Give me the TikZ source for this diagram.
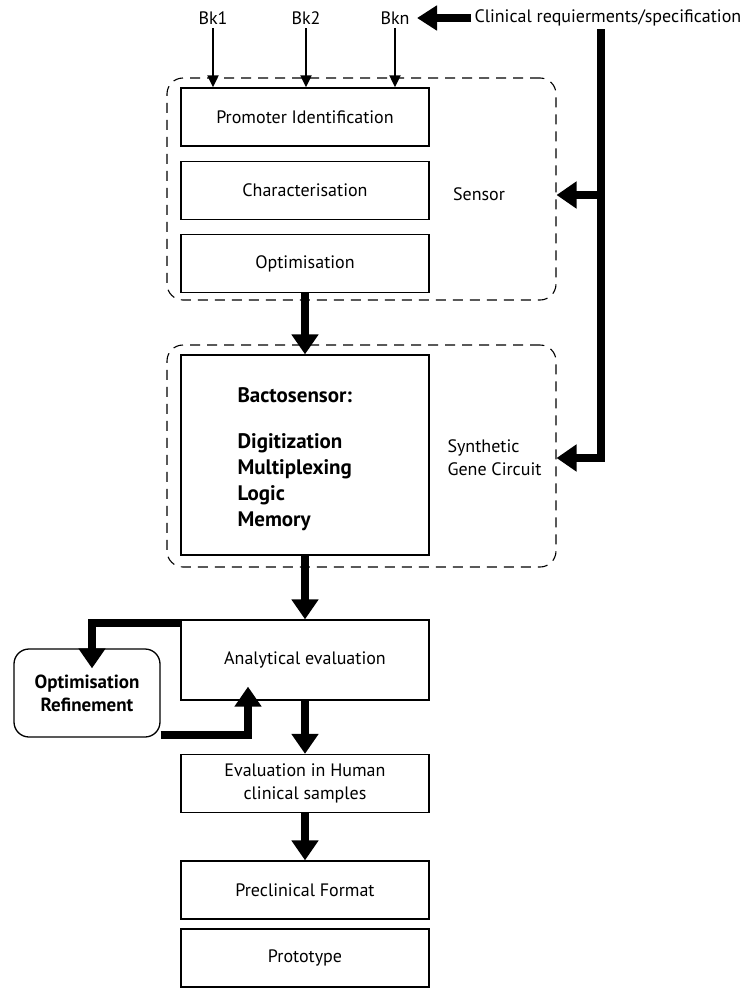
\documentclass[tikz,border=0pt]{standalone}
\usepackage{fontspec}
\setmainfont{PT Sans}
\usepackage{tikz}
\usetikzlibrary{arrows.meta, positioning, calc}
\tikzset{>=stealth}
\tikzset{
  stage/.style={draw, line width=1.3pt, minimum width=248pt, minimum height=58pt, inner sep=0pt, font=\fontsize{18}{23}\selectfont, align=center},
  module/.style={draw, dash pattern=on 10pt off 7pt, line width=1.1pt, rounded corners=16pt, minimum width=389pt, minimum height=222pt, inner sep=0pt},
  fat/.style={line width=8pt, -{Triangle[width=26pt,length=20pt]}},
  feed/.style={line width=2pt, -{Triangle[width=11pt,length=12pt]}},
  lbl/.style={font=\fontsize{18}{23}\selectfont},
  boldlbl/.style={font=\fontsize{21}{26}\selectfont\bfseries, align=left},
}

\begin{document}
\begin{tikzpicture}[x=1pt, y=-1pt]
		\useasboundingbox (0,0) rectangle (742,988);

		% inputs
		\node [lbl] (bk1) at (213,18) {Bk1};
		\node [lbl] (bk2) at (306,18) {Bk2};
		\node [lbl] (bkn) at (395,18) {Bkn};
		\node [lbl, anchor=west] (clin) at (471,18) {Clinical requierments/specification};

		% sensor
		\node [module] (sens) at (361.5,189) {};
		\node [stage] (prom) at (305,117) {Promoter Identification};
		\node [stage] (char) at (305,190.5) {Characterisation};
		\node [stage] (optim) at (305,263.5) {Optimisation};
		\node [lbl] (senslbl) at (479,194) {Sensor};

		% gene circuit
		\node [module] (gene) at (361.5,456) {};
		\node [stage, minimum height=200pt] (bacto) at (305,455) {};
		\node [boldlbl, anchor=north west] (bactotxt) at (234,384) {Bactosensor:\\[20pt]Digitization\\Multiplexing\\Logic\\Memory};
		\node [lbl, anchor=west, align=left] (genelbl) at (444,458) {Synthetic\\Gene Circuit};

		% evaluation
		\node [stage, minimum height=80pt] (anal) at (305,660) {Analytical evaluation};
		\node [stage, minimum width=146pt, minimum height=88pt, rounded corners=15pt, font=\fontsize{19}{23}\selectfont\bfseries] (refine) at (87,693) {Optimisation\\Refinement};
		\node [stage] (evalh) at (305,783.5) {Evaluation in Human\\clinical samples};
		\node [stage] (precl) at (305,890) {Preclinical Format};
		\node [stage] (proto) at (305,958) {Prototype};

		\coordinate (rtop) at (601,29);
		\coordinate (rmid) at (601,195);
		\coordinate (rbot) at (601,458);

		\draw [feed] (bk1.south) -- (bk1.south |- prom.north);
		\draw [feed] (bk2.south) -- (bk2.south |- prom.north);
		\draw [feed] (bkn.south) -- (bkn.south |- prom.north);
		\draw [fat, -{Triangle[width=24pt,length=20pt]}] (clin.west) -- ([xshift=4pt]bkn.east);

		\draw [fat] (rtop) -- (rbot) -- (rbot -| gene.east);
		\draw [fat] (rmid) -- (rmid -| sens.east);

		\draw [fat] (optim.south) -- (bacto.north);
		\draw [fat] (bacto.south) -- (anal.north);
		\draw [fat] (anal.south) -- (evalh.north);
		\draw [fat] (evalh.south) -- (precl.north);

		% loop
		\draw [fat] ([yshift=-4pt]anal.north west) -| ([xshift=5pt,yshift=-20pt]refine.north);
		\draw [fat] ([yshift=3pt]refine.south east) -| ([xshift=-57pt,yshift=14pt]anal.south);
\end{tikzpicture}
\end{document}
